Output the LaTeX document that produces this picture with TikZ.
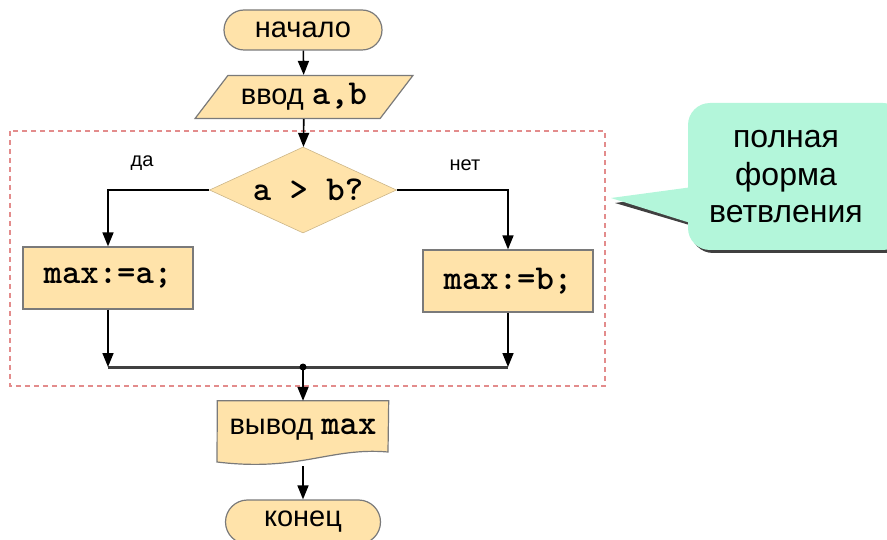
\documentclass[tikz,border=0pt]{standalone}
\usepackage{fontspec}
\setmainfont{Liberation Sans}
\newfontfamily\monofnt{lmmonolt10-bold}[Extension=.otf]
\usetikzlibrary{shapes.geometric,arrows.meta,calc}
\definecolor{boxfill}{HTML}{FFE3AA}
\definecolor{boxline}{HTML}{7A7A7A}
\definecolor{mint}{HTML}{B3F6DA}
\definecolor{dashred}{HTML}{E38C8C}
\begin{document}
\begin{tikzpicture}[x=1pt,y=-1pt,
  every node/.style={font=\fontsize{29}{32}\selectfont},
  base/.style={fill=boxfill,draw=boxline,line width=1.2pt,inner sep=0pt},
  term/.style={base,rectangle,rounded corners=20pt,minimum width=158pt,minimum height=40pt},
  io/.style={base,trapezium,trapezium left angle=45,trapezium right angle=135,trapezium stretches=true,minimum width=218pt,minimum height=43pt},
  dec/.style={base,diamond,draw=boxfill!80!black,line width=0.6pt,minimum width=187pt,minimum height=86pt},
  proc/.style={base,rectangle,minimum width=170pt,minimum height=62pt},
  arr/.style={line width=1.6pt,-{Triangle[length=14pt,width=11pt]}},
  mergeln/.style={line width=3pt,draw=black!75},
  lbl/.style={font=\fontsize{20}{22}\selectfont},
  mono/.style={font=\fontsize{35}{36}\selectfont\monofnt}
]
\useasboundingbox (0,0) rectangle (887,540);
\clip (0,0) rectangle (887,540);

% dashed frame
\draw[dashred,line width=1.4pt,dash pattern=on 5pt off 4pt] (10,131) rectangle (605,386);

% callout
\begin{scope}[shift={(3,3)}]
  \fill[black!75,rounded corners=22pt] (688,103) rectangle (905,250);
  \fill[black!75] (612,200) -- (700,188) -- (700,226) -- cycle;
\end{scope}
\fill[mint,rounded corners=22pt] (688,103) rectangle (905,250);
\fill[mint] (611,198) -- (700,186) -- (700,226) -- cycle;
\node[align=center,font=\fontsize{32}{37.5}\selectfont] (note) at (786,177) {полная\\форма\\ветвления};

% nodes
\node[term] (start) at (303,30) {начало};
\node[io] (inp) at (304,97) {ввод {\fontsize{35}{36}\selectfont\monofnt a,b}};
\node[dec] (cond) at (303,190) {};
\node[mono] (condtxt) at (308,190) {a > b?};
\node[proc,mono] (pa) at (108,278) {max:=a;};
\node[proc,mono] (pb) at (508,281) {max:=b;};
\node[inner sep=0pt,minimum width=171pt,minimum height=62pt] (out) at (303,432) {};
\fill[boxfill] (out.north west) -- (out.north east) -- (388,452) .. controls (330,447) and (300,472) .. (217,462) -- cycle;
\draw[boxline,line width=1.2pt] (out.north west) -- (out.north east) -- (388,452) .. controls (330,447) and (300,472) .. (217,462) -- cycle;
\node (outtxt) at (303,430) {вывод {\fontsize{35}{36}\selectfont\monofnt max}};
\node[term,minimum width=155pt,minimum height=44pt,rounded corners=22pt] (end) at (303,522) {конец};

\node[lbl] (yes) at (142,163) {да};
\node[lbl] (no) at (465,165) {нет};

% connectors
\draw[arr] (start) -- (inp);
\draw[arr] (inp) -- (cond);
\draw[arr] (cond.west) -| (pa.north);
\draw[arr] (cond.east) -| (pb.north);
\coordinate (m) at (303,367);
\draw[mergeln] (pa.south |- m) -- (pb.south |- m);
\draw[arr] (pa.south) -- (pa.south |- m);
\draw[arr] (pb.south) -- (pb.south |- m);
\fill (m) circle (3.5pt);
\draw[arr] (m) -- (out.north);
\coordinate (wave) at (303,466);
\draw[arr] (wave) -- (end.north);
\end{tikzpicture}
\end{document}
